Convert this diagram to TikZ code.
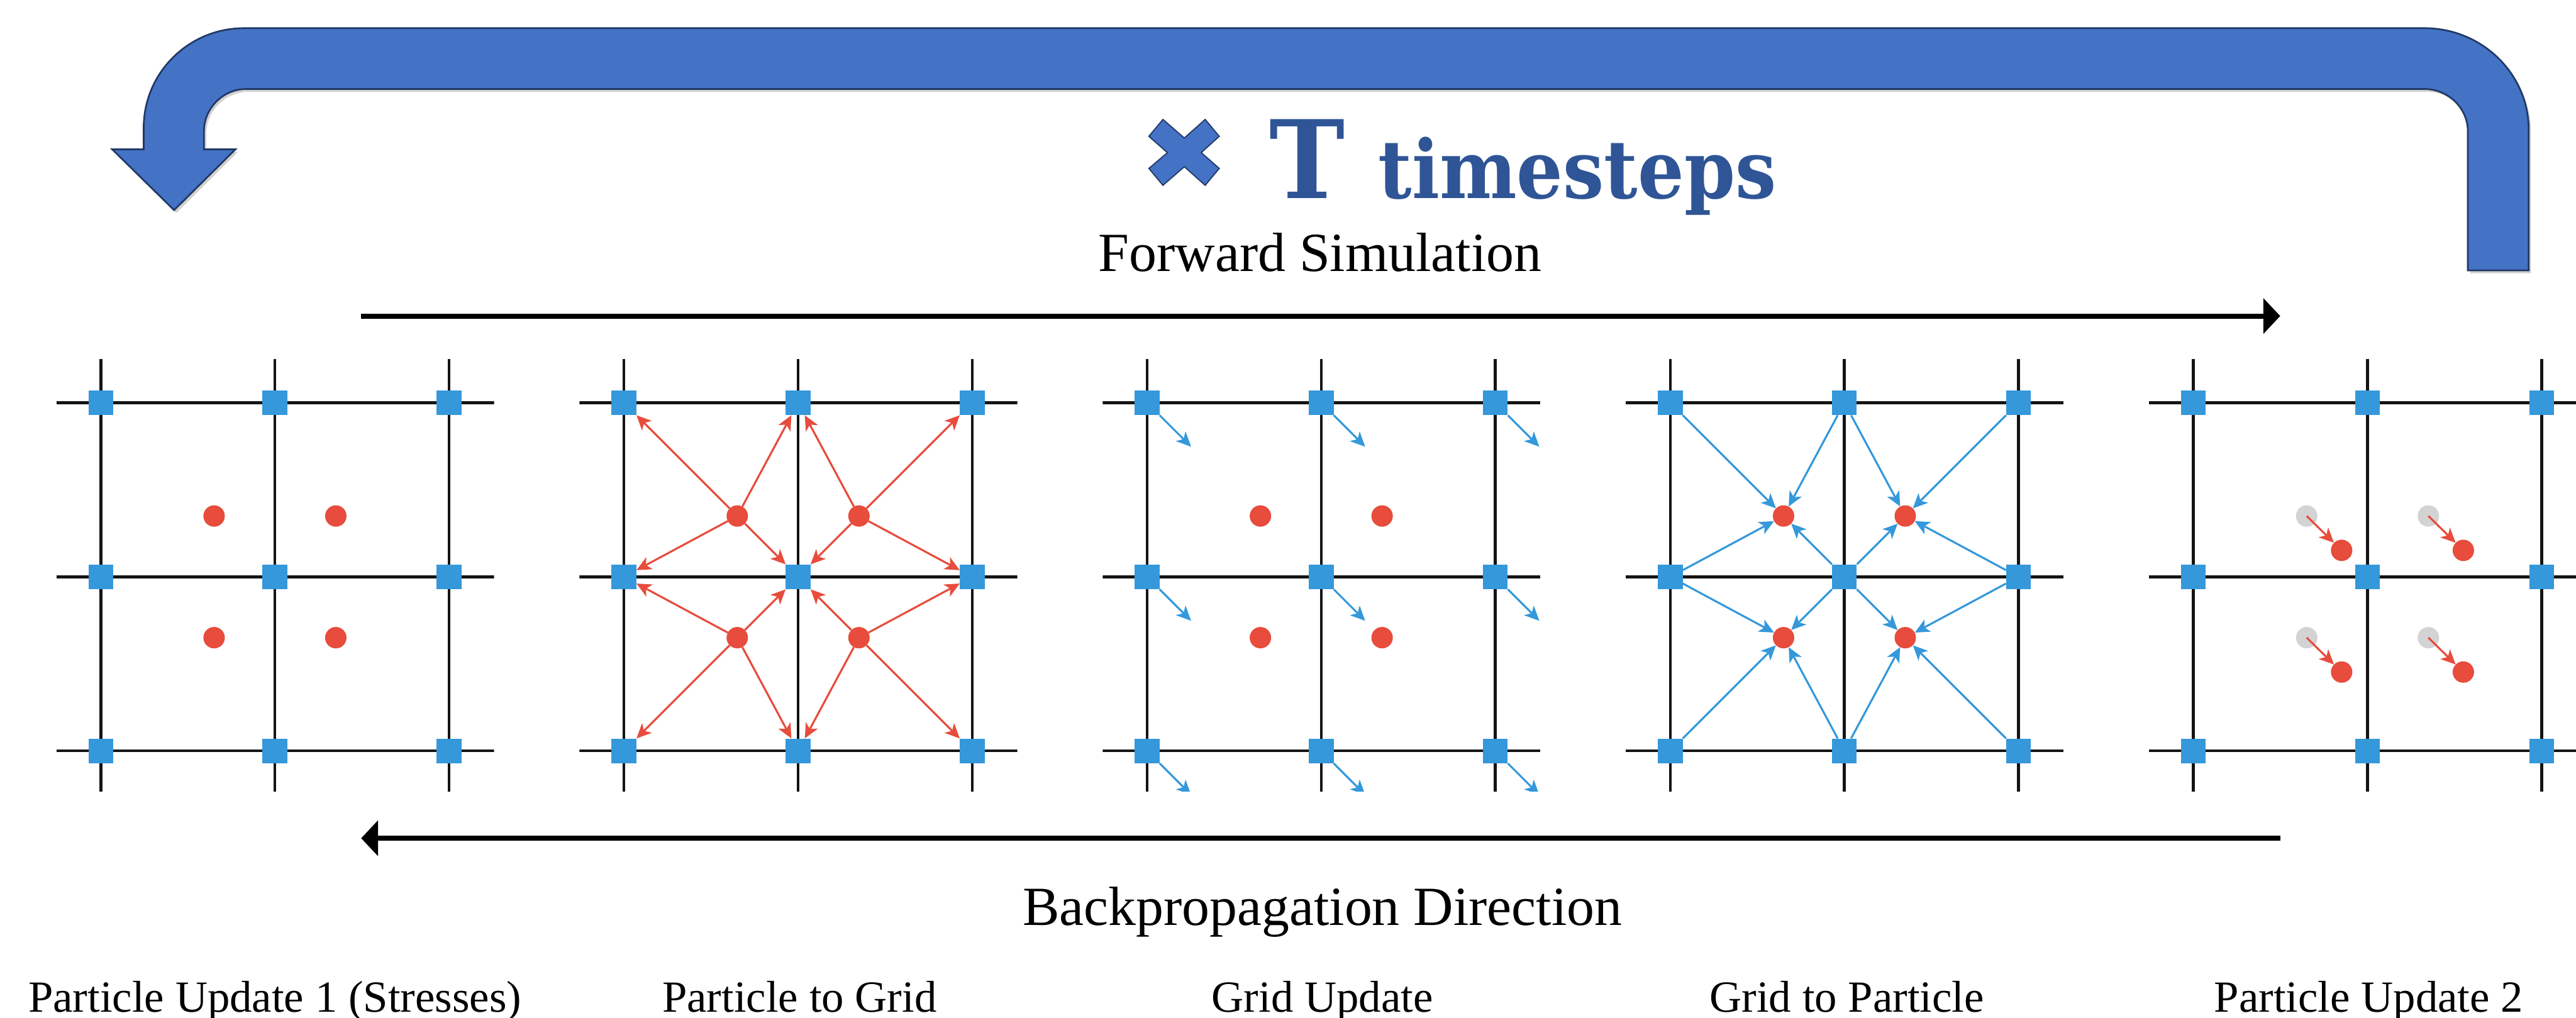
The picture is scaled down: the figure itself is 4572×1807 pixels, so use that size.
\documentclass[tikz,border=0pt]{standalone}
\usepackage{fontspec}
\setmainfont{Liberation Serif}
\newfontfamily\slabfont{DejaVu Serif}
\usetikzlibrary{arrows.meta,shadows,calc}
\definecolor{arrowblue}{HTML}{4472C4}
\definecolor{outlinenavy}{HTML}{203864}
\definecolor{titleblue}{HTML}{2F5597}
\definecolor{nodeblue}{HTML}{3498DB}
\definecolor{partred}{HTML}{E74C3C}
\definecolor{partgray}{HTML}{D3D3D3}
\newcommand{\mpmpanel}[1]{%
  \pgfmathsetmacro\cx{488+928.5*#1}%
  \foreach \c in {0,1,2}{\draw[gridline] (\cx+309*\c-309,637) -- (\cx+309*\c-309,1405);}
  \foreach \r in {0,1,2}{\draw[gridline] (\cx-388,715+309*\r) -- (\cx+389,715+309*\r);}
  \foreach \r in {0,1,2}{\foreach \c in {0,1,2}{\node[gnode] (g#1-\r-\c) at (\cx+309*\c-309,715+309*\r) {};}}
}
\begin{document}
\begin{tikzpicture}[x=1pt,y=-1pt,
  gridline/.style={line width=5pt,black!92},
  gnode/.style={rectangle,fill=nodeblue,minimum size=44pt,inner sep=0pt},
  pnode/.style={circle,fill=partred,minimum size=38pt,inner sep=0pt},
  oldnode/.style={circle,fill=partgray,minimum size=38pt,inner sep=0pt},
  redarrow/.style={draw=partred,line width=3.5pt,-{Stealth[length=26pt,width=24pt,inset=7pt]}},
  bluearrow/.style={draw=nodeblue,line width=3.5pt,-{Stealth[length=26pt,width=24pt,inset=7pt]}},
  bigarrow/.style={fill=arrowblue,draw=outlinenavy,line width=3pt,line join=miter,
    drop shadow={shadow xshift=4pt,shadow yshift=-5pt,opacity=0.18,fill=black}},
  dirarrow/.style={line width=9pt,black,-{Triangle[length=30pt,width=62pt]}},
  bigtext/.style={font=\fontsize{98}{110}\selectfont,inner sep=0pt,anchor=base},
  labeltext/.style={font=\fontsize{79}{90}\selectfont,inner sep=0pt,anchor=base}]
\useasboundingbox (0,0) rectangle (4572,1807);

% big loop arrow
\path[bigarrow] (4488,480) -- (4488,230) .. controls (4488,131) and (4405,50) .. (4303,50)
  -- (433,50) .. controls (335,50) and (255,129) .. (255,227) -- (255,265) -- (199,265)
  -- (309,373) -- (418,265) -- (362,265) -- (362,233) .. controls (362,192) and (396,158) .. (437,158)
  -- (4303,158) .. controls (4345,158) and (4380,192) .. (4380,233) -- (4380,480) -- cycle;

% title
\filldraw[fill=arrowblue,draw=outlinenavy,line width=2pt,line join=miter]
  (2064,212) -- (2102,245) -- (2139,212) -- (2164,242) -- (2132,271) -- (2164,299)
  -- (2139,329) -- (2102,296) -- (2064,329) -- (2039,299) -- (2072,271) -- (2039,242) -- cycle;
\node[anchor=south west,inner sep=0pt,text=titleblue] (Tletter) at (2253,352)
  {\resizebox{134pt}{140pt}{\slabfont\bfseries T}};
\node[anchor=base west,inner sep=0pt,text=titleblue] (tsteps) at (2446,352)
  {\resizebox{706pt}{109pt}{\slabfont\bfseries timesteps}};

% direction texts and arrows
\node[bigtext] (fwdtext) at (2343,482) {Forward Simulation};
\coordinate (fwdstart) at (641,561);
\coordinate (fwdend) at (4047,561);
\draw[dirarrow] (fwdstart) -- (fwdend);
\coordinate (bwdstart) at (4047,1488);
\coordinate (bwdend) at (641,1488);
\draw[dirarrow] (bwdstart) -- (bwdend);
\node[bigtext] (bwdtext) at (2347,1642) {Backpropagation Direction};

% panel 1: particle update 1
\begin{scope}
  \clip (488-388,637) rectangle (488+389,1405);
  \mpmpanel{0}
  \foreach \pr in {0,1}{\foreach \pc in {0,1}{\node[pnode] (p0-\pr-\pc) at (488-108+216*\pc,916+216*\pr) {};}}
\end{scope}

% panel 2: particle to grid
\begin{scope}
  \clip (1416.5-388,637) rectangle (1416.5+389,1405);
  \mpmpanel{1}
  \foreach \pr in {0,1}{\foreach \pc in {0,1}{%
    \node[pnode] (p1-\pr-\pc) at (1416.5-108+216*\pc,916+216*\pr) {};
    \foreach \a in {0,1}{\foreach \b in {0,1}{%
      \pgfmathtruncatemacro\rr{\pr+\a}\pgfmathtruncatemacro\cc{\pc+\b}%
      \draw[redarrow] (p1-\pr-\pc) -- (g1-\rr-\cc);}}}}
\end{scope}

% panel 3: grid update
\begin{scope}
  \clip (2345-388,637) rectangle (2345+389,1405);
  \mpmpanel{2}
  \foreach \pr in {0,1}{\foreach \pc in {0,1}{\node[pnode] (p2-\pr-\pc) at (2345-108+216*\pc,916+216*\pr) {};}}
  \foreach \r in {0,1,2}{\foreach \c in {0,1,2}{%
    \coordinate (v2-\r-\c) at ($(g2-\r-\c)+(78,78)$);
    \draw[bluearrow] (g2-\r-\c.south east) -- (v2-\r-\c);}}
\end{scope}

% panel 4: grid to particle
\begin{scope}
  \clip (3273.5-388,637) rectangle (3273.5+389,1405);
  \mpmpanel{3}
  \foreach \pr in {0,1}{\foreach \pc in {0,1}{%
    \node[pnode] (p3-\pr-\pc) at (3273.5-108+216*\pc,916+216*\pr) {};
    \foreach \a in {0,1}{\foreach \b in {0,1}{%
      \pgfmathtruncatemacro\rr{\pr+\a}\pgfmathtruncatemacro\cc{\pc+\b}%
      \draw[bluearrow] (g3-\rr-\cc) -- (p3-\pr-\pc);}}}}
\end{scope}

% panel 5: particle update 2
\begin{scope}
  \clip (4202-388,637) rectangle (4202+389,1405);
  \mpmpanel{4}
  \foreach \pr in {0,1}{\foreach \pc in {0,1}{%
    \node[oldnode] (o4-\pr-\pc) at (4202-108+216*\pc,916+216*\pr) {};
    \node[pnode] (p4-\pr-\pc) at (4202-108+62+216*\pc,916+61+216*\pr) {};
    \draw[redarrow] (o4-\pr-\pc.center) -- (p4-\pr-\pc);}}
\end{scope}

% labels
\node[labeltext] (lab1) at (488,1797) {Particle Update 1 (Stresses)};
\node[labeltext] (lab2) at (1419,1797) {Particle to Grid};
\node[labeltext] (lab3) at (2347,1797) {Grid Update};
\node[labeltext] (lab4) at (3278,1797) {Grid to Particle};
\node[labeltext] (lab5) at (4204,1797) {Particle Update 2};
\end{tikzpicture}
\end{document}
